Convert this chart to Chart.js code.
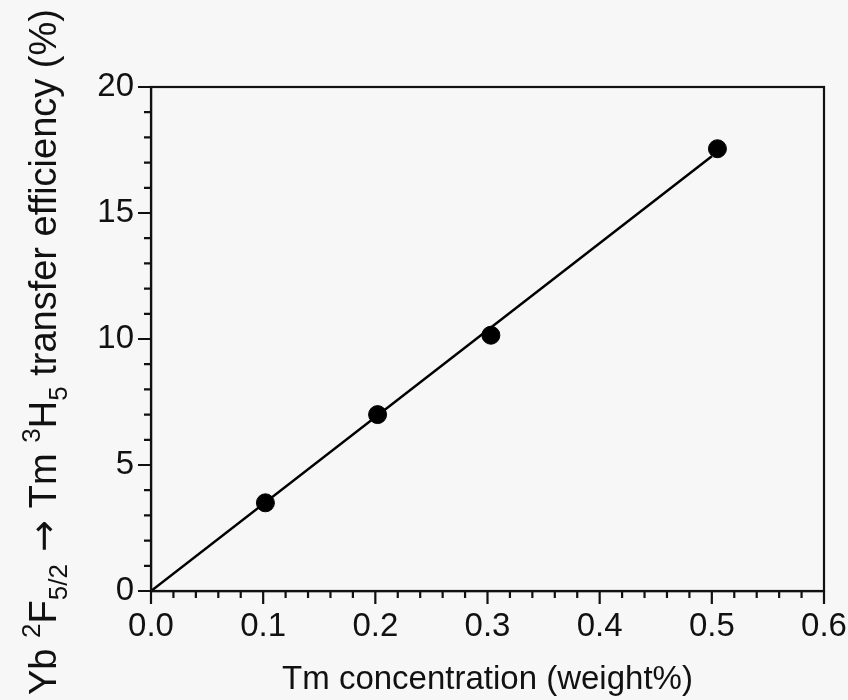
<!DOCTYPE html>
<html>
<head>
<meta charset="utf-8">
<script src="https://cdn.jsdelivr.net/npm/chart.js@4/dist/chart.umd.min.js"></script>
<style>
  html, body { margin: 0; padding: 0; background: #f7f7f7; }
</style>
</head>
<body>
<canvas id="chart" width="848" height="700"></canvas>
<script>
// measured points
const concentration = [0.102, 0.202, 0.303, 0.505];
const efficiency = [3.5, 7.0, 10.15, 17.55];

// straight fit line through the origin
const fitX = [0, 0.5];
const fitY = [0, 17.25];

const xMin = 0, xMax = 0.6, xMajor = 0.1, xMinor = 0.02;
const yMin = 0, yMax = 20, yMajor = 5, yMinor = 1;

const FONT = "'Liberation Sans', Arial, Helvetica, sans-serif";
const INK = "#111";

// y title pieces: [text, kind] kind: n normal, sup, sub
const yTitle = [
  ["Yb ", "n"], ["2", "sup"], ["F", "n"], ["5/2", "sub"],
  [" \u2192 ", "arrow"], ["Tm ", "n"], ["3", "sup"], ["H", "n"], ["5", "sub"],
  [" transfer efficiency (%)", "n"]
];

const frameAndTicks = {
  id: "frameAndTicks",
  afterDraw(chart) {
    const { ctx, chartArea: a } = chart;
    const xs = chart.scales.x, ys = chart.scales.y;
    ctx.save();
    ctx.strokeStyle = INK;
    ctx.lineWidth = 2.2;
    ctx.strokeRect(a.left, a.top, a.right - a.left, a.bottom - a.top);

    ctx.beginPath();
    const nx = Math.round((xMax - xMin) / xMinor);
    for (let i = 0; i <= nx; i++) {
      const v = xMin + i * xMinor;
      const px = xs.getPixelForValue(v);
      const len = i % Math.round(xMajor / xMinor) === 0 ? 13 : 7;
      ctx.moveTo(px, a.bottom);
      ctx.lineTo(px, a.bottom + len);
    }
    const ny = Math.round((yMax - yMin) / yMinor);
    for (let i = 0; i <= ny; i++) {
      const v = yMin + i * yMinor;
      const py = ys.getPixelForValue(v);
      const len = i % Math.round(yMajor / yMinor) === 0 ? 13 : 7;
      ctx.moveTo(a.left, py);
      ctx.lineTo(a.left - len, py);
    }
    ctx.stroke();

    // rotated y title with sub/superscripts
    const big = 38, small = 26;
    ctx.translate(56, 695);
    ctx.rotate(-Math.PI / 2);
    ctx.fillStyle = INK;
    ctx.textBaseline = "alphabetic";
    let x = 0;
    for (const [txt, kind] of yTitle) {
      const size = kind === "sup" || kind === "sub" ? small : big;
      ctx.font = size + "px " + (kind === "arrow" ? "'DejaVu Sans', sans-serif" : FONT);
      const dy = kind === "sup" ? -big * 0.42 : kind === "sub" ? big * 0.28 : 0;
      ctx.fillText(txt, x, dy);
      x += ctx.measureText(txt).width;
    }
    ctx.restore();
  }
};

new Chart(document.getElementById("chart"), {
  type: "scatter",
  data: {
    datasets: [
      {
        data: concentration.map((c, i) => ({ x: c, y: efficiency[i] })),
        backgroundColor: "#000",
        borderColor: "#000",
        pointRadius: 9,
        showLine: false
      },
      {
        data: fitX.map((c, i) => ({ x: c, y: fitY[i] })),
        borderColor: "#000",
        borderWidth: 2.5,
        pointRadius: 0,
        showLine: true
      }
    ]
  },
  options: {
    responsive: false,
    animation: false,
    layout: { padding: { left: 0, top: 87, right: 24, bottom: 0 } },
    plugins: { legend: { display: false }, tooltip: { enabled: false } },
    scales: {
      x: {
        type: "linear",
        min: xMin, max: xMax,
        afterFit: s => { s.height = 109; s.paddingLeft = 0; s.paddingRight = 0; },
        grid: { display: false, drawTicks: false },
        border: { display: true, color: INK, width: 2.2 },
        ticks: {
          stepSize: xMajor,
          padding: 16,
          color: INK,
          font: { family: FONT, size: 33 },
          maxRotation: 0,
          callback: v => v.toFixed(1)
        },
        title: {
          display: true,
          text: "Tm concentration (weight%)",
          color: INK,
          font: { family: FONT, size: 33 },
          padding: { top: 0, bottom: 0 }
        }
      },
      y: {
        type: "linear",
        min: yMin, max: yMax,
        afterFit: s => { s.width = 151; s.paddingTop = 0; s.paddingBottom = 0; },
        grid: { display: false, drawTicks: false },
        border: { display: true, color: INK, width: 2.2 },
        ticks: {
          stepSize: yMajor,
          padding: 17,
          color: INK,
          font: { family: FONT, size: 33 }
        }
      }
    }
  },
  plugins: [frameAndTicks]
});
</script>
</body>
</html>
